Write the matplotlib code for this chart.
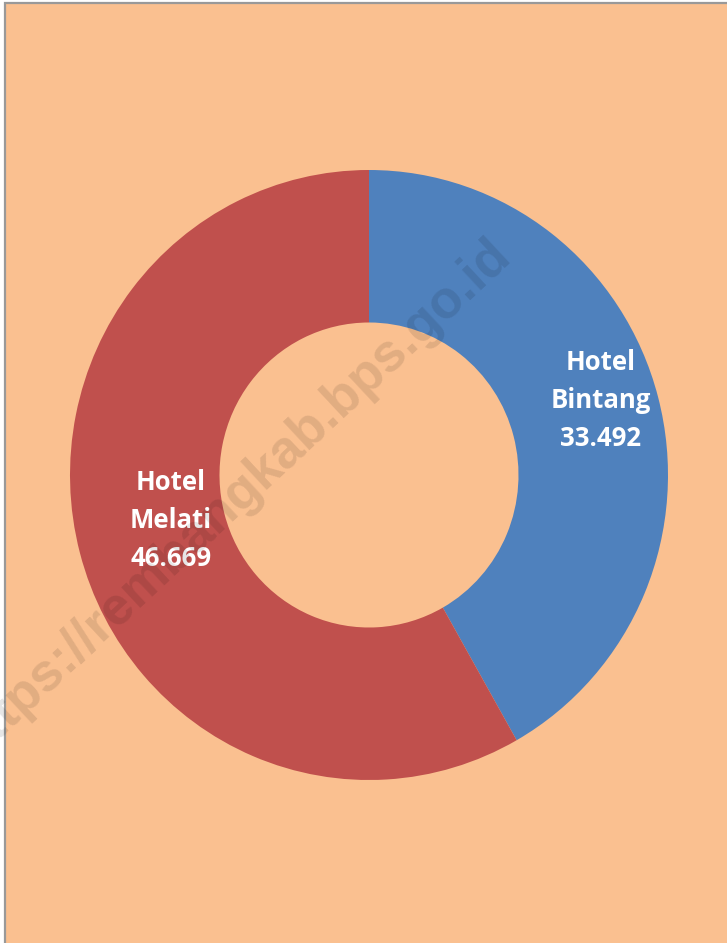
import matplotlib.pyplot as plt
from matplotlib.patches import Rectangle

# data
categories = ["Hotel Bintang", "Hotel Melati"]
values = [33492, 46669]
value_labels = ["33.492", "46.669"]
colors = ["#4F81BD", "#C0504D"]

bg = "#FAC090"

fig = plt.figure(figsize=(7.27, 9.43), dpi=100)
fig.patch.set_facecolor("white")

# peach panel with gray border on left/top (right/bottom run off the page)
W, H = 727, 943
panel = Rectangle((5 / W, -0.05), 1.1, 1.05 - 3.5 / H, transform=fig.transFigure,
                  facecolor=bg, edgecolor="#999999", linewidth=1.6, zorder=-5)
fig.patches.append(panel)

# axes placed so that radius 1 -> 299 px wide, 305 px tall, centred at (369, 475)
cx, cy, rx, ry = 369, 475, 299, 305
lim = 1.2
ax = fig.add_axes([(cx - lim * rx) / W, (H - cy - lim * ry) / H,
                   2 * lim * rx / W, 2 * lim * ry / H])
ax.set_zorder(1)
ax.patch.set_alpha(0)

ax.pie(values, colors=colors, startangle=90, counterclock=False,
       radius=1, wedgeprops=dict(width=0.5, linewidth=0))
ax.set_aspect("auto")
ax.set_xlim(-lim, lim)
ax.set_ylim(-lim, lim)
ax.axis("off")

# data labels
label_pos = [(0.776, 0.243), (-0.662, -0.148)]
for cat, val, (x, y) in zip(categories, value_labels, label_pos):
    name = cat.replace(" ", "\n")
    ax.text(x, y, name + "\n" + val, ha="center", va="center", color="white",
            fontsize=18.5, fontweight="bold", family="Open Sans", linespacing=1.52)

# watermark
fig.text(233 / W, 1 - 499 / H, "https://rembangkab.bps.go.id", rotation=43,
         rotation_mode="anchor", ha="center", va="center", fontsize=38,
         fontweight="bold", family="Liberation Sans", color="black", alpha=0.1,
         zorder=10)

fig.savefig("out.png", dpi=100, facecolor=fig.get_facecolor())
